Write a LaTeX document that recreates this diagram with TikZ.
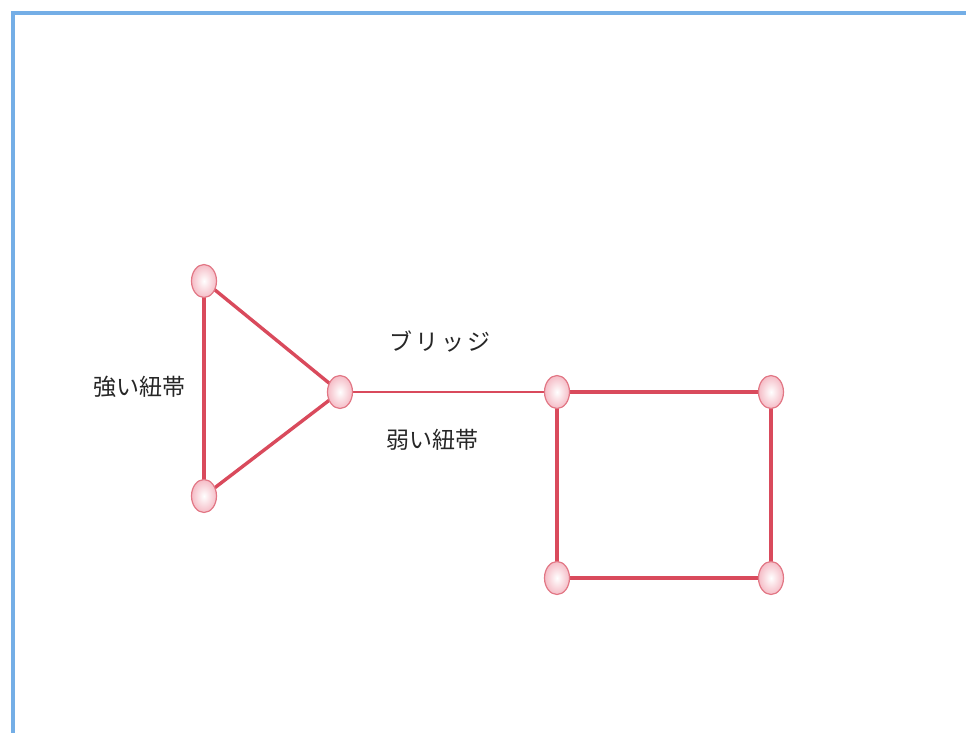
\documentclass[tikz,border=0pt]{standalone}
\usepackage{fontspec}
\newfontfamily\cjk{Noto Sans CJK JP}
\usetikzlibrary{shapes.geometric}
\definecolor{edgered}{HTML}{D94A5C}
\definecolor{nodepink}{HTML}{F5BCC6}
\definecolor{frameblue}{HTML}{74AEE6}
\tikzset{
  vert/.style={ellipse, draw=edgered!75, line width=1.2pt, inner color=white, outer color=nodepink,
    minimum width=25pt, minimum height=33pt, inner sep=0pt},
  strong/.style={draw=edgered, line width=3.4pt},
  weak/.style={draw=edgered, line width=1.1pt},
  lbl/.style={font=\cjk\fontsize{23}{26}\selectfont, text=black!85}
}
\begin{document}
\begin{tikzpicture}[x=1pt,y=-1pt]
\useasboundingbox (0,0) rectangle (966,733);
\begin{scope}
\clip (0,0) rectangle (966,733);
\draw[frameblue, line width=3.5pt] (13,13) rectangle (980,750);
\end{scope}
\coordinate (p1) at (204,281);
\coordinate (p2) at (204,496);
\coordinate (p3) at (340,392);
\coordinate (q1) at (557,392);
\coordinate (q2) at (771,392);
\coordinate (q3) at (771,578);
\coordinate (q4) at (557,578);
\draw[strong] (p1) -- (p2);
\draw[strong] (p1) -- (p3);
\draw[strong] (p2) -- (p3);
\draw[weak] (p3) -- (q1);
\draw[strong] (q1) -- (q2);
\draw[strong] (q2) -- (q3);
\draw[strong] (q3) -- (q4);
\draw[strong] (q4) -- (q1);
\node[vert] (t1) at (p1) {};
\node[vert] (t2) at (p2) {};
\node[vert] (t3) at (p3) {};
\node[vert] (s1) at (q1) {};
\node[vert] (s2) at (q2) {};
\node[vert] (s3) at (q3) {};
\node[vert] (s4) at (q4) {};
\node[lbl] (l1) at (139,387) {強い紐帯};
\node[lbl] (l2) at (440,342) {\addfontfeature{LetterSpace=12}ブリッジ};
\node[lbl] (l3) at (432,440) {弱い紐帯};
\end{tikzpicture}
\end{document}
